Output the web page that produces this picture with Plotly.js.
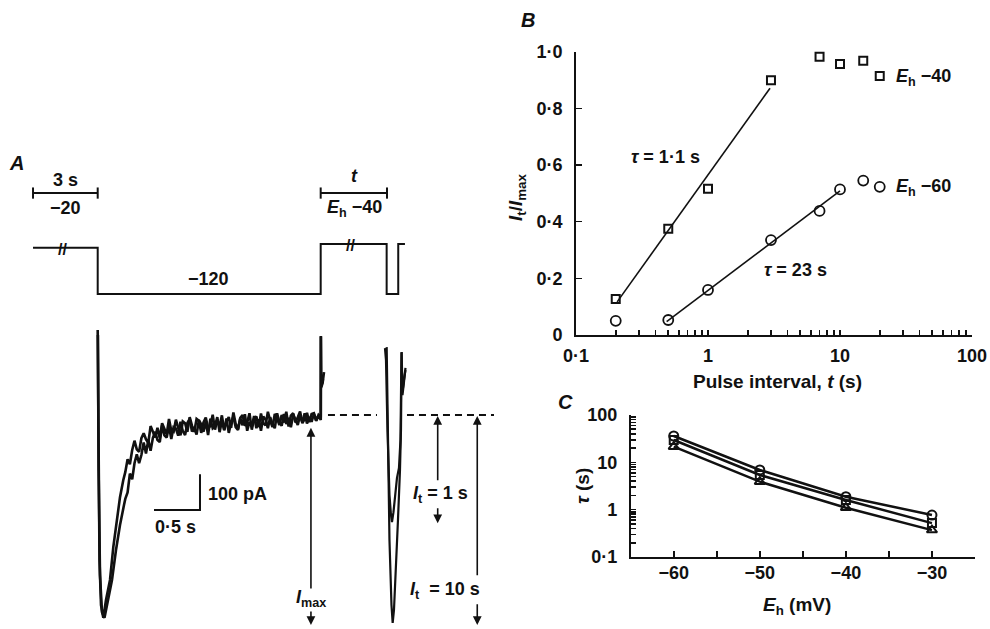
<!DOCTYPE html>
<html><head><meta charset="utf-8">
<script src="https://cdn.plot.ly/plotly-3.0.1.min.js"></script>
<style>html,body{margin:0;padding:0;background:#fff}#chart{width:990px;height:629px}</style>
</head><body><div id="chart"></div>
<script>
// ---------- Panel B: recovery vs pulse interval ----------
const pulseInterval = [0.2, 0.5, 1, 3, 7, 10, 15, 20];           // s
const recov40 = [0.127, 0.375, 0.516, 0.899, 0.982, 0.957, 0.968, 0.914]; // Eh -40
const recov60 = [0.050, 0.053, 0.159, 0.335, 0.438, 0.514, 0.545, 0.523]; // Eh -60
const fit40T = [0.205, 2.95], fit40Y = [0.117, 0.871];
const fit60T = [0.486, 10],   fit60Y = [0.047, 0.509];
const bTickVals = [0.1,0.2,0.3,0.4,0.5,0.6,0.7,0.8,0.9,1,2,3,4,5,6,7,8,9,10,20,30,40,50,60,70,80,90,100];
const bTickText = bTickVals.map(v => ({0.1:'0·1',1:'1',10:'10',100:'100'}[v] || ''));
const bYTickVals = [0, 0.2, 0.4, 0.6, 0.8, 1.0];
const bYTickText = ['0', '0·2', '0·4', '0·6', '0·8', '1·0'];

// ---------- Panel C: tau vs holding potential ----------
const eh = [-60, -50, -40, -30];                 // mV
const tauCircle = [36, 6.9, 1.88, 0.77];         // s
const tauSquare = [29.6, 5.4, 1.6, 0.52];
const tauTriangle = [21.4, 3.9, 1.1, 0.37];
const cXTickVals = [-60,-55,-50,-45,-40,-35,-30,-25];
const cXTickText = ['−60','','−50','','−40','','−30',''];
const cYTickVals = [0.1,0.2,0.3,0.4,0.5,0.6,0.7,0.8,0.9,1,2,3,4,5,6,7,8,9,10,20,30,40,50,60,70,80,90,100];
const cYTickText = cYTickVals.map(v => ({0.1:'0·1',1:'1',10:'10',100:'100'}[v] || ''));

// ---------- Panel A: voltage protocol (schematic, drawn levels) ----------
const protoT = [-0.703, 0, 0, 2.424, 2.424, 3.141, 3.141, 3.267, 3.267, 3.340]; // s (display time)
const protoLevelDrawn = [-20, -20, -120, -120, -12, -12, -120, -120, -12, -12]; // mV as drawn
const barPre = [-0.703, 0];      // "3 s" bar
const barT = [2.424, 3.145];     // "t" bar
const barLevel = [98, 98];

// ---------- Panel A: current recordings (pA, relative to I_max level) ----------
const rec1RiseT = [0, 0.0065, 0.0196, 0.0359, 0.0609, 0.0902, 0.1337, 0.1696, 0.2065, 0.2424, 0.2783];
const rec1RiseI = [238, -98, -406, -532, -568, -518, -462, -370, -294, -230, -182];
const rec2RiseT = [0.0022, 0.0098, 0.025, 0.0467, 0.0739, 0.112, 0.1554, 0.1989, 0.2424, 0.2859];
const rec2RiseI = [224, -154, -448, -552, -568, -518, -462, -378, -308, -252];
const plateauT0 = 0.30, plateauDt = 0.025;  // sampling of the plateau
const rec1Plateau = [-160,-124,-138,-98,-72,-96,-103,-65,-51,-68,-78,-31,-48,-63,-36,-65,-23,-38,-54,-11,
  -44,-47,-13,-36,-57,-18,-23,-47,-6,-30,-47,-11,-16,-50,-21,-7,-38,-30,1,-41,-14,-32,-1,-43,-18,-6,-36,7,
  -25,-39,-8,0,-30,-21,5,-41,-10,-4,-34,4,-23,-29,9,-16,-34,3,-9,-28,0,-21,9,-32,-2,5,-21,-6,10,-23,-11,6,
  -20,3,5,-16,0,-7];
const rec2Plateau = [-235,-217,-164,-180,-135,-110,-135,-112,-77,-108,-70,-100,-64,-47,-70,-76,-29,-57,-63,-31,
  -67,-34,-38,-58,-19,-45,-56,-22,-11,-46,-38,-55,-14,-26,-47,-19,-56,-10,-37,-31,-6,-48,-17,-41,-10,-50,-21,-5,
  -34,-42,-9,-29,2,-44,-20,-33,-3,-37,-12,-44,-4,-13,-37,-6,-26,-37,5,-20,-30,3,-25,-8,-34,1,-15,-28,0,-21,5,
  -24,-6,-19,3,-16,-2,-14];
const rec1EndT = [2.426, 2.428, 2.445, 2.46], rec1EndI = [220, 76, 90, 120];
const rec2EndT = [2.426, 2.43, 2.45],         rec2EndI = [221, 80, 100];
const test10T = [3.1413,3.150,3.1717,3.1935,3.2065,3.2207,3.2424,3.2641,3.2859,3.2967,3.3043,3.313,3.3293,3.3457];
const test10I = [190,-14,-350,-532,-582,-546,-434,-294,-154,-42,176,56,92,132];
const test1T = [3.1228,3.1337,3.150,3.1717,3.188,3.199,3.2152,3.2315,3.2533,3.275,3.2913,3.3022,3.313,3.3293,3.3457];
const test1I = [187,154,-42,-224,-280,-300,-272,-224,-176,-148,-70,176,64,98,126];
const imaxLevelT = [2.503, 3.036, null, 3.362, 4.308], imaxLevelI = [0, 0, null, 0, 0];
const scaleBarT = [0.612, 1.112, 1.112], scaleBarI = [-266, -266, -166]; // 0.5 s, 100 pA
// arrows: [time, up-tip I, up-tail I, down-tip I, down-tail I]
const arrowImax = [2.318, -36, -490, -588, -546];
const arrowIt1  = [3.696, -3, -187, -303, -257];
const arrowIt10 = [4.126, -3, -453, -588, -526];

// ---------- build ----------
const W = 990, H = 629;
const px = x => x / W, py = y => 1 - y / H;
const FONT = 'Liberation Sans, Arial, Helvetica, sans-serif';
const K = '#111';

function plateau(vals){ return {t: vals.map((v,i)=>plateauT0 + plateauDt*i), i: vals}; }
const p1 = plateau(rec1Plateau), p2 = plateau(rec2Plateau);
const rec1T = rec1RiseT.concat(p1.t, rec1EndT), rec1I = rec1RiseI.concat(p1.i, rec1EndI);
const rec2T = rec2RiseT.concat(p2.t, rec2EndT), rec2I = rec2RiseI.concat(p2.i, rec2EndI);

const lineA = {color: K, width: 2.6};
const traces = [
  // Panel B
  {x: fit40T, y: fit40Y, xaxis:'x', yaxis:'y', mode:'lines', line:{color:K, width:1.6}},
  {x: fit60T, y: fit60Y, xaxis:'x', yaxis:'y', mode:'lines', line:{color:K, width:1.6}},
  {x: pulseInterval, y: recov40, xaxis:'x', yaxis:'y', mode:'markers', cliponaxis:false,
   marker:{symbol:'square-open', size:8, color:K, line:{width:2, color:K}}},
  {x: pulseInterval, y: recov60, xaxis:'x', yaxis:'y', mode:'markers', cliponaxis:false,
   marker:{symbol:'circle-open', size:10, color:K, line:{width:1.8, color:K}}},
  // Panel C
  {x: eh, y: tauTriangle, xaxis:'x2', yaxis:'y2', mode:'lines+markers', cliponaxis:false,
   line:{color:K, width:2.5}, marker:{symbol:'triangle-up-open', size:9, color:K, line:{width:2,color:K}}},
  {x: eh, y: tauSquare, xaxis:'x2', yaxis:'y2', mode:'lines+markers', cliponaxis:false,
   line:{color:K, width:2.5}, marker:{symbol:'square-open', size:8, color:K, line:{width:2,color:K}}},
  {x: eh, y: tauCircle, xaxis:'x2', yaxis:'y2', mode:'lines+markers', cliponaxis:false,
   line:{color:K, width:2.5}, marker:{symbol:'circle-open', size:9, color:K, line:{width:2,color:K}}},
  // Panel A protocol
  {x: protoT, y: protoLevelDrawn, xaxis:'x3', yaxis:'y4', mode:'lines', line:{color:K, width:2}},
  {x: barPre, y: barLevel, xaxis:'x3', yaxis:'y4', mode:'lines+markers', line:{color:K, width:2},
   marker:{symbol:'line-ns-open', size:8, line:{width:2, color:K}}},
  {x: barT, y: barLevel, xaxis:'x3', yaxis:'y4', mode:'lines+markers', line:{color:K, width:2},
   marker:{symbol:'line-ns-open', size:8, line:{width:2, color:K}}},
  // Panel A currents
  {x: rec1T, y: rec1I, xaxis:'x3', yaxis:'y3', mode:'lines', line:lineA},
  {x: rec2T, y: rec2I, xaxis:'x3', yaxis:'y3', mode:'lines', line:lineA},
  {x: test10T, y: test10I, xaxis:'x3', yaxis:'y3', mode:'lines', line:{color:K, width:2.2}},
  {x: test1T, y: test1I, xaxis:'x3', yaxis:'y3', mode:'lines', line:{color:K, width:2.2}},
  {x: imaxLevelT, y: imaxLevelI, xaxis:'x3', yaxis:'y3', mode:'lines', line:{color:K, width:1.8, dash:'7px,5px'}},
  {x: scaleBarT, y: scaleBarI, xaxis:'x3', yaxis:'y3', mode:'lines', line:{color:K, width:2}}
];

const tf = {family: FONT, size: 18, color: K, weight: 'bold'};
const titleF = {family: FONT, size: 19, color: K, weight: 'bold'};
function ann(text, x, y, opts){ return Object.assign({text, x:px(x), y:py(y), xref:'paper', yref:'paper',
  showarrow:false, font:tf, xanchor:'center', yanchor:'middle'}, opts||{}); }
function arrow(a, tipI, tailI){ return {x:a[0], y:tipI, ax:a[0], ay:tailI, xref:'x3', yref:'y3', axref:'x3', ayref:'y3',
  text:'', showarrow:true, arrowhead:2, arrowsize:1.1, arrowwidth:1.6, arrowcolor:K}; }
const ital = {family: FONT, size: 20, color: K, weight: 'bold'};

const annotations = [
  ann('<i>A</i>', 16, 163, {font: ital}),
  ann('<i>B</i>', 528, 20, {font: ital}),
  ann('<i>C</i>', 565, 402, {font: ital}),
  ann('<i>I</i><sub>t</sub>/<i>I</i><sub>max</sub>', 517, 198, {textangle: -90, font: titleF}),
  ann('Pulse interval, <i>t</i> (s)', 777, 382, {font: titleF}),
  ann('<i>τ</i> = 1·1 s', 665, 157),
  ann('<i>τ</i> = 23 s', 795, 270),
  ann('<i>E</i><sub>h</sub> −40', 894, 77, {xanchor:'left'}),
  ann('<i>E</i><sub>h</sub> −60', 894, 187, {xanchor:'left'}),
  ann('<i>τ</i> (s)', 582, 486, {textangle: -90, font: titleF}),
  ann('<i>E</i><sub>h</sub> (mV)', 797, 606, {font: titleF}),
  ann('3 s', 65, 180),
  ann('−20', 65, 208),
  ann('<i>t</i>', 354, 176),
  ann('<i>E</i><sub>h</sub> −40', 354, 208),
  ann('−120', 208, 279),
  ann('//', 63, 249, {font:{family:FONT, size:16, color:K, weight:'bold'}}),
  ann('//', 350, 245, {font:{family:FONT, size:16, color:K, weight:'bold'}}),
  ann('100 pA', 206, 494, {xanchor:'left'}),
  ann('0·5 s', 153, 527, {xanchor:'left'}),
  ann('<i>I</i><sub>max</sub>', 311, 598),
  ann('<i>I</i><sub>t</sub> = 1 s', 440, 494),
  ann('<i>I</i><sub>t</sub>  = 10 s', 445, 590),
  arrow(arrowImax, arrowImax[1], arrowImax[2]), arrow(arrowImax, arrowImax[3], arrowImax[4]),
  arrow(arrowIt1, arrowIt1[1], arrowIt1[2]),   arrow(arrowIt1, arrowIt1[3], arrowIt1[4]),
  arrow(arrowIt10, arrowIt10[1], arrowIt10[2]), arrow(arrowIt10, arrowIt10[3], arrowIt10[4])
];

const axCommon = {showgrid:false, zeroline:false, showline:true, linecolor:K, linewidth:1.8,
  ticks:'inside', ticklen:6, tickwidth:1.6, tickcolor:K, tickfont:tf, fixedrange:true, ticklabelstandoff:6};
const hidden = {visible:false, showgrid:false, zeroline:false, fixedrange:true};

const layout = {
  width: W, height: H, margin:{l:0, r:0, t:0, b:0}, paper_bgcolor:'#fff', plot_bgcolor:'rgba(0,0,0,0)',
  showlegend:false, font:{family:FONT, color:K},
  xaxis: Object.assign({}, axCommon, {type:'log', domain:[px(576), px(972)], range:[-1, 2], anchor:'y',
    tickmode:'array', tickvals:bTickVals, ticktext:bTickText, ticklen:5, ticklabelstandoff:4}),
  yaxis: Object.assign({}, axCommon, {domain:[py(335), py(51.7)], range:[0, 1], anchor:'x',
    tickmode:'array', tickvals:bYTickVals, ticktext:bYTickText, ticklabelstandoff:8}),
  xaxis2: Object.assign({}, axCommon, {domain:[px(630.7), px(975)], range:[-65, -25], anchor:'y2',
    tickmode:'array', tickvals:cXTickVals, ticktext:cXTickText, ticklabelstandoff:-1}),
  yaxis2: Object.assign({}, axCommon, {type:'log', domain:[py(557), py(415)], range:[-1, 2], anchor:'x2',
    tickmode:'array', tickvals:cYTickVals, ticktext:cYTickText, ticklen:5, ticklabelstandoff:8}),
  xaxis3: Object.assign({}, hidden, {domain:[0, px(540)], range:[-1.062, 4.808], anchor:'y3'}),
  yaxis3: Object.assign({}, hidden, {domain:[0, py(320)], range:[-599.2, 266], anchor:'x3'}),
  yaxis4: Object.assign({}, hidden, {domain:[py(310), py(180)], range:[-154.6, 126.2], anchor:'x3'}),
  annotations
};
Plotly.newPlot('chart', traces, layout, {staticPlot:true, displayModeBar:false});
</script></body></html>
